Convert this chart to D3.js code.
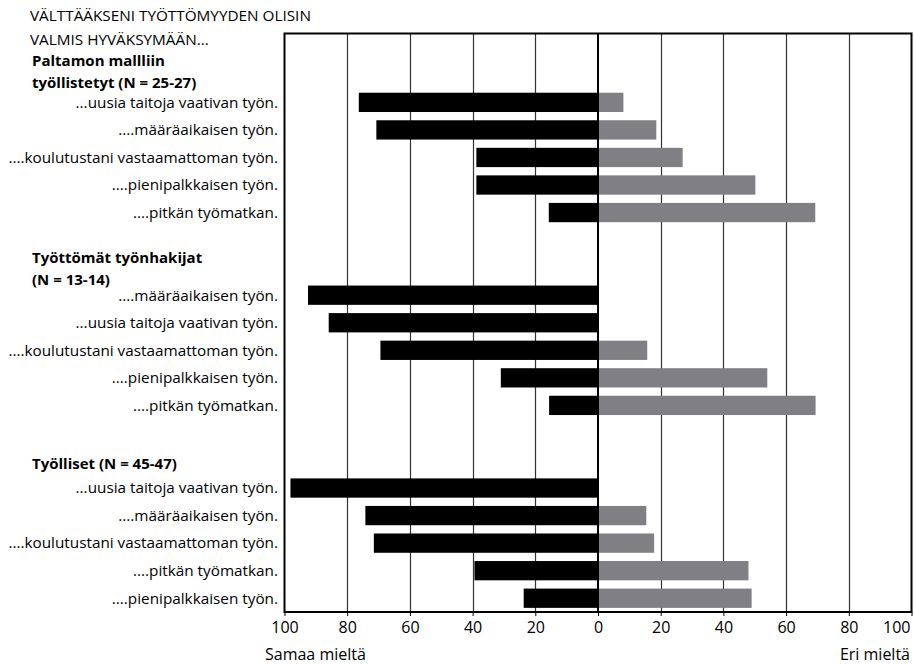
<!DOCTYPE html>
<html>
<head>
<meta charset="utf-8">
<script src="https://cdn.jsdelivr.net/npm/d3@7"></script>
<style>
  html, body { margin: 0; padding: 0; background: #fff; }
  svg { display: block; }
  text { font-family: "Open Sans", "DejaVu Sans", sans-serif; fill: #000; }
</style>
</head>
<body>
<svg id="chart" width="914" height="664"></svg>
<script>
// ---- data ----
const titleLines = ["VÄLTTÄÄKSENI TYÖTTÖMYYDEN OLISIN", "VALMIS HYVÄKSYMÄÄN..."];
const groupHeaders = [
  ["Paltamon mallliin", "työllistetyt (N = 25-27)"],
  ["Työttömät työnhakijat", "(N = 13-14)"],
  ["Työlliset (N = 45-47)"]
];
const group1Labels = ["...uusia taitoja vaativan työn.", "....määräaikaisen työn.", "....koulutustani vastaamattoman työn.", "....pienipalkkaisen työn.", "....pitkän työmatkan."];
const group2Labels = ["....määräaikaisen työn.", "...uusia taitoja vaativan työn.", "....koulutustani vastaamattoman työn.", "....pienipalkkaisen työn.", "....pitkän työmatkan."];
const group3Labels = ["...uusia taitoja vaativan työn.", "....määräaikaisen työn.", "....koulutustani vastaamattoman työn.", "....pitkän työmatkan.", "....pienipalkkaisen työn."];
// "Samaa mieltä" (agree) – drawn to the left
const group1Agree = [76.3, 70.7, 38.8, 38.8, 15.7];
const group2Agree = [92.5, 85.9, 69.4, 31.0, 15.6];
const group3Agree = [98.1, 74.2, 71.5, 39.4, 23.7];
// "Eri mieltä" (disagree) – drawn to the right
const group1Disagree = [8.1, 18.6, 27.0, 50.2, 69.3];
const group2Disagree = [0, 0, 15.7, 54.0, 69.4];
const group3Disagree = [0, 15.4, 17.9, 48.0, 49.0];
const tickValues = [-100, -80, -60, -40, -20, 0, 20, 40, 60, 80, 100];
const axisLeftLabel = "Samaa mieltä";
const axisRightLabel = "Eri mieltä";

// ---- layout ----
const svg = d3.select("#chart");
const plot = { left: 284.5, right: 911.5, top: 33.5, bottom: 612 };
const groupStartSlot = [2, 9, 16];
const nSlots = 21;
const headerY = [[61, 83], [258, 280], [464]];

const allLabels = [group1Labels, group2Labels, group3Labels];
const allAgree = [group1Agree, group2Agree, group3Agree];
const allDis = [group1Disagree, group2Disagree, group3Disagree];
const rows = [];
allLabels.forEach((labs, g) => labs.forEach((l, i) => rows.push({
  label: l, slot: groupStartSlot[g] + i, agree: allAgree[g][i], dis: allDis[g][i]
})));

const x = d3.scaleLinear().domain([-100, 100]).range([plot.left, plot.right]);
const y = d3.scaleBand().domain(d3.range(nSlots)).range([plot.top, plot.bottom])
  .paddingInner(0.3).paddingOuter(0.15);

// gridlines
svg.append("g").selectAll("line").data(tickValues.filter(v => v !== 0 && Math.abs(v) !== 100))
  .join("line")
  .attr("x1", d => Math.round(x(d)) + 0.5).attr("x2", d => Math.round(x(d)) + 0.5)
  .attr("y1", plot.top).attr("y2", plot.bottom)
  .attr("stroke", "#333").attr("stroke-width", 1.2);

// bars
const bars = svg.append("g");
bars.selectAll("rect.agree").data(rows).join("rect")
  .attr("class", "agree")
  .attr("x", d => x(-d.agree)).attr("width", d => x(0) - x(-d.agree))
  .attr("y", d => y(d.slot)).attr("height", y.bandwidth())
  .attr("fill", "#000");
bars.selectAll("rect.dis").data(rows.filter(d => d.dis > 0)).join("rect")
  .attr("class", "dis")
  .attr("x", x(0)).attr("width", d => x(d.dis) - x(0))
  .attr("y", d => y(d.slot)).attr("height", y.bandwidth())
  .attr("fill", "#7f7f84");

// zero line
svg.append("line")
  .attr("x1", x(0)).attr("x2", x(0)).attr("y1", plot.top).attr("y2", plot.bottom)
  .attr("stroke", "#000").attr("stroke-width", 2);

// frame
svg.append("rect")
  .attr("x", plot.left).attr("y", plot.top)
  .attr("width", plot.right - plot.left).attr("height", plot.bottom - plot.top)
  .attr("fill", "none").attr("stroke", "#000").attr("stroke-width", 2);

// x axis
const xAxis = d3.axisBottom(x).tickValues(tickValues).tickFormat(d => Math.abs(d))
  .tickSize(4).tickSizeOuter(0);
const ax = svg.append("g").attr("transform", `translate(0,${plot.bottom})`).call(xAxis);
ax.select(".domain").remove();
ax.selectAll(".tick line").attr("stroke", "#000");
ax.selectAll(".tick text").attr("dy", "0.85em").style("font-size", "16px")
  .style("font-family", '"Open Sans", sans-serif');
ax.selectAll(".tick text").filter(d => d === 100).attr("text-anchor", "end").attr("x", -1.5);

svg.append("text").attr("x", 265).attr("y", 660).style("font-size", "16px").text(axisLeftLabel);
svg.append("text").attr("x", 910).attr("y", 660).attr("text-anchor", "end")
  .style("font-size", "16px").text(axisRightLabel);

// row labels
svg.append("g").selectAll("text").data(rows).join("text")
  .attr("x", 278).attr("y", d => y(d.slot) + y.bandwidth() / 2)
  .attr("dy", "0.35em").attr("text-anchor", "end")
  .style("font-size", "15.3px").text(d => d.label);

// title
svg.append("g").selectAll("text").data(titleLines).join("text")
  .attr("x", 30).attr("y", (d, i) => 16 + i * 24).attr("dy", "0.35em")
  .style("font-size", "15.3px").text(d => d);

// group headers
groupHeaders.forEach((lines, g) => {
  svg.append("g").selectAll("text").data(lines).join("text")
    .attr("x", 32).attr("y", (d, i) => headerY[g][i]).attr("dy", "0.35em")
    .style("font-size", "15px").style("font-weight", "bold").text(d => d);
});
</script>
</body>
</html>
